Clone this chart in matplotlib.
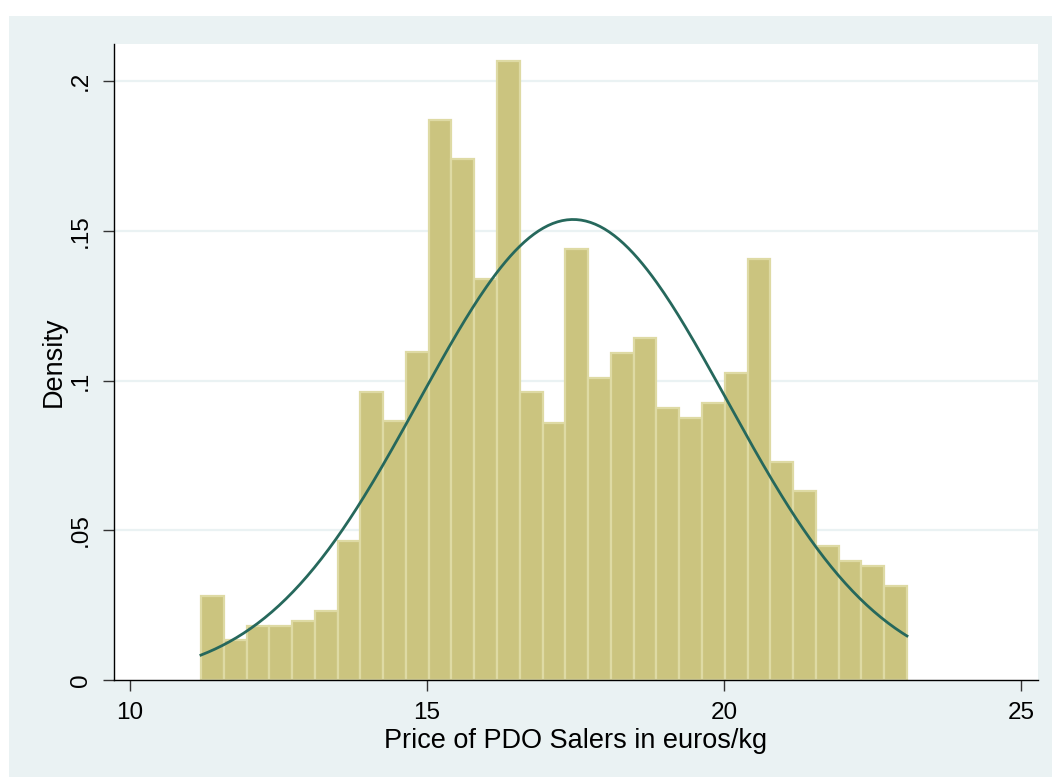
import numpy as np
import matplotlib
matplotlib.use("Agg")
import matplotlib.pyplot as plt
from matplotlib.patches import Rectangle

plt.rcParams['font.family'] = ['Liberation Sans', 'DejaVu Sans']

# histogram (density) of price, 31 bins
bin_start = 11.195
bin_width = 0.3834
density = [0.0280, 0.0134, 0.0181, 0.0181, 0.0198, 0.0231, 0.0464, 0.0962,
           0.0865, 0.1095, 0.1870, 0.1739, 0.1340, 0.2068, 0.0961, 0.0859,
           0.1438, 0.1009, 0.1092, 0.1141, 0.0909, 0.0876, 0.0926, 0.1026,
           0.1406, 0.0727, 0.0630, 0.0447, 0.0397, 0.0381, 0.0315]

# fitted normal overlay
price_mean = 17.46
price_sd = 2.594

xticks = [10, 15, 20, 25]
yticks = [0, 0.05, 0.1, 0.15, 0.2]
ytick_labels = ['0', '.05', '.1', '.15', '.2']

bg = '#eaf2f3'
bar_fill = '#cbc47f'
bar_edge = '#dedaa4'
line_col = '#26685c'

fig = plt.figure(figsize=(10.52, 7.77), dpi=100, facecolor='white')
fig.patches.append(Rectangle((9 / 1052, 0), 1 - 9 / 1052, 1 - 16 / 777,
                             transform=fig.transFigure, facecolor=bg,
                             edgecolor='none', zorder=-1))

ax = fig.add_axes([114 / 1052, 1 - 680 / 777, (1037.5 - 114) / 1052, (680 - 44) / 777])
ax.set_facecolor('white')

n = len(density)
left_edges = bin_start + bin_width * np.arange(n)
ax.bar(left_edges, density, width=bin_width, align='edge', color=bar_fill,
       edgecolor=bar_edge, linewidth=1.6, zorder=2)

xs = np.linspace(bin_start, bin_start + bin_width * n, 300)
pdf = np.exp(-0.5 * ((xs - price_mean) / price_sd) ** 2) / (price_sd * np.sqrt(2 * np.pi))
ax.plot(xs, pdf, color=line_col, linewidth=2.0, zorder=3)

ax.set_xlim(9.731, 25.278)
ax.set_ylim(0, 0.2124)

ax.set_xticks(xticks)
ax.set_yticks(yticks)
ax.set_yticklabels(ytick_labels, rotation=90, va='center')
ax.tick_params(axis='both', direction='out', length=8, width=1.0,
               color='#333333', labelsize=17.5, labelcolor='black')
ax.tick_params(axis='x', pad=8)
ax.tick_params(axis='y', pad=8)

for yv in yticks[1:]:
    ax.axhline(yv, color=bg, linewidth=1.6, zorder=1)

for s in ['top', 'right']:
    ax.spines[s].set_visible(False)
for s in ['left', 'bottom']:
    ax.spines[s].set_linewidth(1.0)
    ax.spines[s].set_color('black')

ax.set_xlabel('Price of PDO Salers in euros/kg', fontsize=19.5, labelpad=3)
ax.set_ylabel('Density', fontsize=19.5, labelpad=2)

fig.savefig('out.png', dpi=100, facecolor='white')
